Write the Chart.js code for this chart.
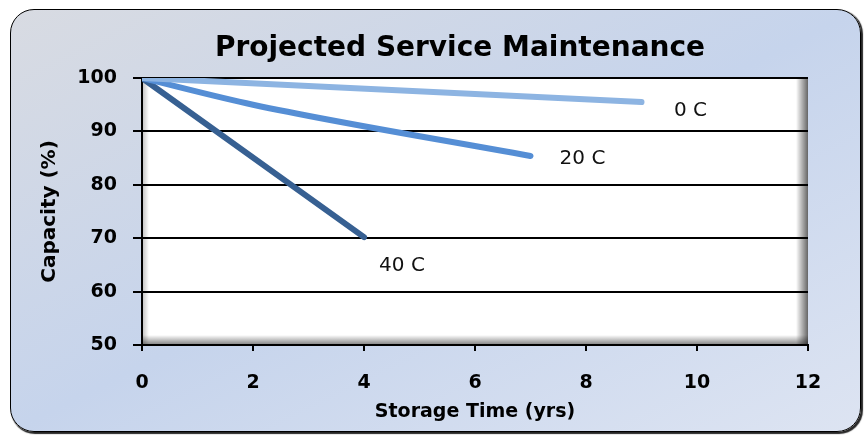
<!DOCTYPE html>
<html>
<head>
<meta charset="utf-8">
<script src="https://cdn.jsdelivr.net/npm/chart.js@4.4.1/dist/chart.umd.min.js"></script>
<style>
    html, body { margin: 0; padding: 0; background: #fff; }
    #wrap { position: relative; width: 864px; height: 437px; }
    #card {
        position: absolute; left: 10px; top: 9px; width: 849px; height: 421px;
        border: 1.5px solid #000; border-radius: 24px;
        background: linear-gradient(to bottom right, #d8dbe2 0%, #c6d4ec 50%, #dde4f2 100%);
        box-shadow: 1.5px 1.5px 1px rgba(0,0,0,0.85);
    }
    canvas { position: absolute; left: 0; top: 0; }
</style>
</head>
<body>
<div id="wrap">
    <div id="card"></div>
    <canvas id="chart" width="864" height="437"></canvas>
</div>
<script>
// Chart data
const chartTitle = 'Projected Service Maintenance';
const seriesNames = ['0 C', '20 C', '40 C'];
const years0C = [0, 9];
const capacity0C = [100, 95.5];
const years20C = [0, 2, 7];
const capacity20C = [100, 95.0, 85.4];
const years40C = [0, 4];
const capacity40C = [100, 70.2];
const xTicks = [0, 2, 4, 6, 8, 10, 12];
const yTicks = [50, 60, 70, 80, 90, 100];

const toPoints = (xs, ys) => xs.map((x, i) => ({ x: x, y: ys[i] }));

// White plot area with Excel-like inner shadow on right/bottom
const plotBackground = {
    id: 'plotBackground',
    beforeDraw(chart) {
        const { ctx, chartArea: a } = chart;
        ctx.save();
        ctx.fillStyle = '#fff';
        ctx.fillRect(a.left, a.top, a.right - a.left, a.bottom - a.top);

        let g = ctx.createLinearGradient(a.right - 12, 0, a.right, 0);
        g.addColorStop(0, 'rgba(0,0,0,0)');
        g.addColorStop(1, 'rgba(0,0,0,0.6)');
        ctx.fillStyle = g;
        ctx.fillRect(a.right - 12, a.top, 12, a.bottom - a.top);

        g = ctx.createLinearGradient(0, a.bottom - 10, 0, a.bottom);
        g.addColorStop(0, 'rgba(0,0,0,0)');
        g.addColorStop(1, 'rgba(0,0,0,0.5)');
        ctx.fillStyle = g;
        ctx.fillRect(a.left, a.bottom - 10, a.right - a.left, 10);

        g = ctx.createLinearGradient(a.left, 0, a.left + 7, 0);
        g.addColorStop(0, 'rgba(0,0,0,0.25)');
        g.addColorStop(1, 'rgba(0,0,0,0)');
        ctx.fillStyle = g;
        ctx.fillRect(a.left, a.top, 7, a.bottom - a.top);
        ctx.restore();
    }
};

// Title drawn by hand so it sits where the original puts it
const titleText = {
    id: 'titleText',
    afterDraw(chart) {
        const ctx = chart.ctx;
        ctx.save();
        ctx.font = 'bold 28px "DejaVu Sans"';
        ctx.fillStyle = '#000';
        ctx.textAlign = 'center';
        ctx.textBaseline = 'alphabetic';
        ctx.fillText(chartTitle, 460, 56);
        ctx.restore();
    }
};

// Series names next to the last point of each line
const endLabels = {
    id: 'endLabels',
    afterDatasetsDraw(chart) {
        const ctx = chart.ctx;
        ctx.save();
        ctx.font = '20px "DejaVu Sans"';
        ctx.fillStyle = '#111';
        ctx.textAlign = 'center';
        ctx.textBaseline = 'middle';
        chart.data.datasets.forEach((ds, i) => {
            const pts = chart.getDatasetMeta(i).data;
            const last = pts[pts.length - 1];
            ctx.fillText(ds.label, last.x + ds.labelOffset[0], last.y + ds.labelOffset[1]);
        });
        ctx.restore();
    }
};

const lineStyle = {
    borderWidth: 6,
    borderCapStyle: 'round',
    borderJoinStyle: 'round',
    pointRadius: 0,
    tension: 0,
    fill: false
};

new Chart(document.getElementById('chart'), {
    type: 'line',
    data: {
        datasets: [
            { ...lineStyle, label: seriesNames[0], data: toPoints(years0C, capacity0C), borderColor: '#8db4e2', labelOffset: [49, 9] },
            { ...lineStyle, label: seriesNames[1], data: toPoints(years20C, capacity20C), borderColor: '#558ed5', cubicInterpolationMode: 'monotone', labelOffset: [52, 3] },
            { ...lineStyle, label: seriesNames[2], data: toPoints(years40C, capacity40C), borderColor: '#376092', labelOffset: [38, 29] }
        ]
    },
    options: {
        responsive: false,
        animation: false,
        layout: { padding: { left: 0, right: 56, top: 78, bottom: 0 } },
        plugins: {
            legend: { display: false },
            tooltip: { enabled: false },
            title: { display: false }
        },
        scales: {
            x: {
                type: 'linear',
                min: 0,
                max: 12,
                afterBuildTicks: (s) => { s.ticks = xTicks.map(v => ({ value: v })); },
                afterFit: (s) => { s.height = 92; },
                grid: { drawOnChartArea: false, color: '#000', lineWidth: 2, tickLength: 6 },
                border: { color: '#000', width: 2 },
                ticks: { color: '#000', padding: 21, font: { family: 'DejaVu Sans', size: 19, weight: 'bold' } },
                title: {
                    display: true,
                    text: 'Storage Time (yrs)',
                    color: '#000',
                    padding: 14,
                    font: { family: 'DejaVu Sans', size: 19, weight: 'bold' }
                }
            },
            y: {
                min: 50,
                max: 100,
                afterBuildTicks: (s) => { s.ticks = yTicks.map(v => ({ value: v })); },
                afterFit: (s) => { s.width = 142; },
                grid: { color: '#000', lineWidth: 2, tickLength: 9 },
                border: { color: '#000', width: 2 },
                ticks: { color: '#000', padding: 16, font: { family: 'DejaVu Sans', size: 19, weight: 'bold' } },
                title: {
                    display: true,
                    text: 'Capacity (%)',
                    color: '#000',
                    padding: 38,
                    font: { family: 'DejaVu Sans', size: 20, weight: 'bold' }
                }
            }
        }
    },
    plugins: [plotBackground, titleText, endLabels]
});
</script>
</body>
</html>
